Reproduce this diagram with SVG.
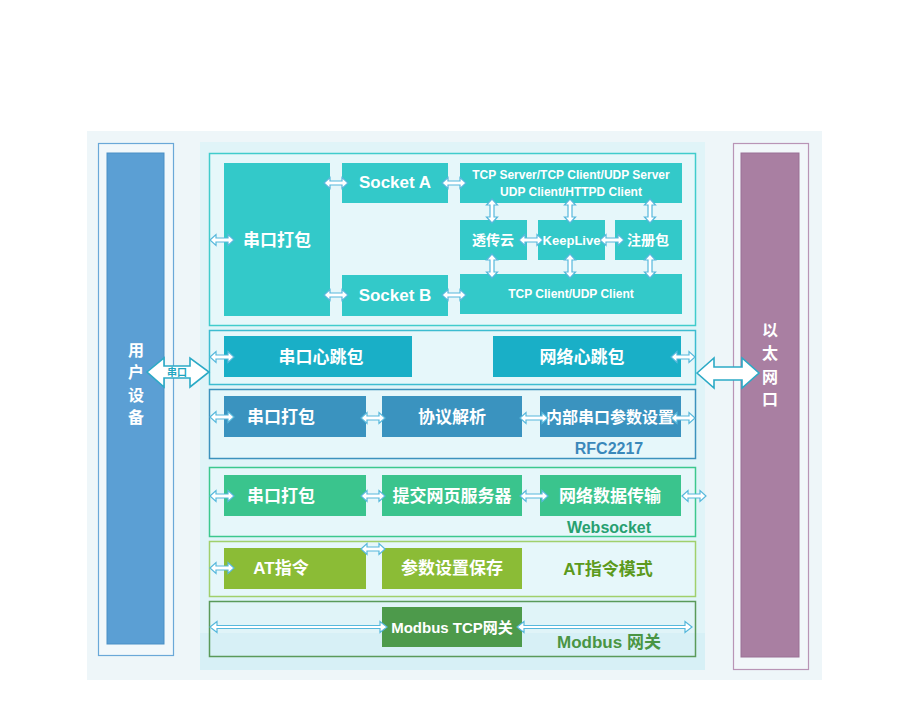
<svg xmlns="http://www.w3.org/2000/svg" xmlns:xlink="http://www.w3.org/1999/xlink" width="900" height="717" viewBox="0 0 900 717">
<style>
text{font-family:"Liberation Sans","Noto Sans CJK SC",sans-serif;font-weight:bold;text-anchor:middle;dominant-baseline:central}
.w{fill:#ffffff}
.t17{font-size:17px}
.t16{font-size:16px}
.t14{font-size:14px}
.t12{font-size:12px}
.sec{fill:#e6f7fa;stroke-width:1.5}
.da{fill:#ffffff;stroke:#56b8dc;stroke-width:1.2}
.big{fill:#ffffff;stroke:#2caac6;stroke-width:1.6}
</style>
<defs>
<path id="da" d="M-12,0 L-6,-5.5 L-6,-2 L6,-2 L6,-5.5 L12,0 L6,5.5 L6,2 L-6,2 L-6,5.5 Z"/>
<path id="da2" d="M-14,0 L-8,-5.5 L-8,-2 L8,-2 L8,-5.5 L14,0 L8,5.5 L8,2 L-8,2 L-8,5.5 Z"/>
</defs>
<rect x="0" y="0" width="900" height="717" fill="#ffffff"/>
<rect x="87" y="131" width="735" height="549" fill="#eef6f9"/>
<rect x="200" y="142" width="505" height="528" fill="#e0f4f8"/>
<rect x="200" y="633" width="505" height="37" fill="#d7f0f6"/>

<g id="user-device">
<rect x="98.5" y="143.5" width="75" height="512" fill="#f2f8fb" stroke="#6aa8d8" stroke-width="1.2"/>
<rect x="107" y="153" width="57" height="491" fill="#5b9fd4" stroke="#4a8fc6" stroke-width="1"/>
<text class="w t16" x="136" y="350">用</text>
<text class="w t16" x="136" y="372">户</text>
<text class="w t16" x="136" y="395">设</text>
<text class="w t16" x="136" y="417">备</text>
</g>

<g id="ethernet">
<rect x="733.5" y="143.5" width="75" height="526" fill="#f2f7fa" stroke="#b994b6" stroke-width="1.2"/>
<rect x="741" y="153" width="58" height="504" fill="#a97fa2" stroke="#9a7095" stroke-width="1"/>
<text class="w t16" x="770" y="330">以</text>
<text class="w t16" x="770" y="353">太</text>
<text class="w t16" x="770" y="377">网</text>
<text class="w t16" x="770" y="399">口</text>
</g>

<g id="section-socket">
<rect class="sec" x="209.5" y="153.5" width="486" height="172" stroke="#40cccc"/>
<g fill="#33c9c9">
<rect x="224" y="163" width="106" height="153"/>
<rect x="342" y="163" width="106" height="40"/>
<rect x="342" y="275" width="106" height="41"/>
<rect x="460" y="163" width="222" height="40"/>
<rect x="460" y="220" width="67" height="40"/>
<rect x="538" y="220" width="67" height="40"/>
<rect x="615" y="220" width="67" height="40"/>
<rect x="460" y="274" width="222" height="40"/>
</g>
<text class="w t17" x="277" y="240">串口打包</text>
<text class="w t17" x="395" y="182">Socket A</text>
<text class="w t17" x="395" y="295">Socket B</text>
<text class="w t12" x="571" y="175">TCP Server/TCP Client/UDP Server</text>
<text class="w t12" x="571" y="192">UDP Client/HTTPD Client</text>
<text class="w t14" x="493" y="240">透传云</text>
<text class="w t14" x="648" y="240">注册包</text>
<text class="w t12" x="571" y="294">TCP Client/UDP Client</text>
</g>

<g id="section-heartbeat">
<rect class="sec" x="209.5" y="330.5" width="486" height="54" stroke="#3dbcd0"/>
<rect x="224" y="336" width="188" height="41" fill="#19afc7"/>
<rect x="493" y="336" width="188" height="41" fill="#19afc7"/>
<text class="w t17" x="321" y="357">串口心跳包</text>
<text class="w t17" x="582" y="357">网络心跳包</text>
</g>

<g id="section-rfc2217">
<rect class="sec" x="209.5" y="389.5" width="486" height="69" stroke="#3c92bd"/>
<rect x="224" y="396" width="142" height="41" fill="#3a93bf"/>
<rect x="382" y="396" width="140" height="41" fill="#3a93bf"/>
<rect x="540" y="396" width="141" height="41" fill="#3a93bf"/>
<text class="w t17" x="281" y="417">串口打包</text>
<text class="w t17" x="452" y="417">协议解析</text>
<text class="w t16" x="610" y="417">内部串口参数设置</text>
<text class="t16" x="609" y="448" fill="#3a88ba">RFC2217</text>
</g>

<g id="section-websocket">
<rect class="sec" x="209.5" y="467.5" width="486" height="69" stroke="#3cc88e"/>
<rect x="224" y="475" width="142" height="41" fill="#3ac48d"/>
<rect x="382" y="475" width="140" height="41" fill="#3ac48d"/>
<rect x="540" y="475" width="141" height="41" fill="#3ac48d"/>
<text class="w t17" x="281" y="496">串口打包</text>
<text class="w t17" x="452" y="496">提交网页服务器</text>
<text class="w t17" x="610" y="496">网络数据传输</text>
<text class="t16" x="609" y="527" fill="#27a070">Websocket</text>
</g>

<g id="section-at">
<rect class="sec" x="209.5" y="541.5" width="486" height="55" stroke="#a0d06c"/>
<rect x="224" y="548" width="142" height="41" fill="#8bbc36"/>
<rect x="382" y="548" width="140" height="41" fill="#8bbc36"/>
<text class="w t17" x="281" y="568">AT指令</text>
<text class="w t17" x="452" y="568">参数设置保存</text>
<text class="t17" x="608" y="569" fill="#5c9a1c">AT指令模式</text>
</g>

<g id="section-modbus">
<rect x="209.5" y="601.5" width="486" height="55" fill="none" stroke="#5a9a5a" stroke-width="1.5"/>
<rect x="382" y="607" width="140" height="40" fill="#4d9a4b"/>
<text class="w" x="452" y="627" font-size="15">Modbus TCP网关</text>
<text class="t17" x="609" y="642" fill="#4a9544">Modbus 网关</text>
</g>

<g id="connectors">
<g class="da">
<use xlink:href="#da" transform="translate(222,240)"/>
<use xlink:href="#da" transform="translate(336,183)"/>
<use xlink:href="#da" transform="translate(454,183)"/>
<use xlink:href="#da" transform="translate(336,295)"/>
<use xlink:href="#da" transform="translate(454,295)"/>
<use xlink:href="#da" transform="translate(492,211) rotate(90)"/>
<use xlink:href="#da" transform="translate(570,211) rotate(90)"/>
<use xlink:href="#da" transform="translate(650,211) rotate(90)"/>
<use xlink:href="#da" transform="translate(492,266) rotate(90)"/>
<use xlink:href="#da" transform="translate(570,266) rotate(90)"/>
<use xlink:href="#da" transform="translate(650,266) rotate(90)"/>
<use xlink:href="#da" transform="translate(531,240)"/>
<use xlink:href="#da" transform="translate(612,240)"/>
<use xlink:href="#da" transform="translate(222,357)"/>
<use xlink:href="#da" transform="translate(683,357)"/>
<use xlink:href="#da" transform="translate(222,417)"/>
<use xlink:href="#da" transform="translate(373,418)"/>
<use xlink:href="#da2" transform="translate(534,418)"/>
<use xlink:href="#da" transform="translate(683,418)"/>
<use xlink:href="#da" transform="translate(222,496)"/>
<use xlink:href="#da" transform="translate(373,496)"/>
<use xlink:href="#da2" transform="translate(534,496)"/>
<use xlink:href="#da" transform="translate(694,496)"/>
<use xlink:href="#da" transform="translate(222,568)"/>
<use xlink:href="#da" transform="translate(373,549)"/>
<path d="M210,627 L217,621.5 L217,625.5 L380,625.5 L380,621.5 L387,627 L380,632.5 L380,628.5 L217,628.5 L217,632.5 Z"/>
<path d="M517,627 L524,621.5 L524,625.5 L685,625.5 L685,621.5 L692,627 L685,632.5 L685,628.5 L524,628.5 L524,632.5 Z"/>
</g>
<path class="big" d="M147,372 L164,358 L164,366 L190,366 L190,358 L209,372 L190,387 L190,378 L164,378 L164,387 Z"/>
<text x="177" y="372.5" font-size="10" fill="#1fa6c0">串口</text>
<path class="big" d="M697,373 L714,358 L714,367 L742,367 L742,358 L759,373 L742,388 L742,380 L714,380 L714,388 Z"/>
</g>
<text class="w" x="571.5" y="240" font-size="13">KeepLive</text>
</svg>
